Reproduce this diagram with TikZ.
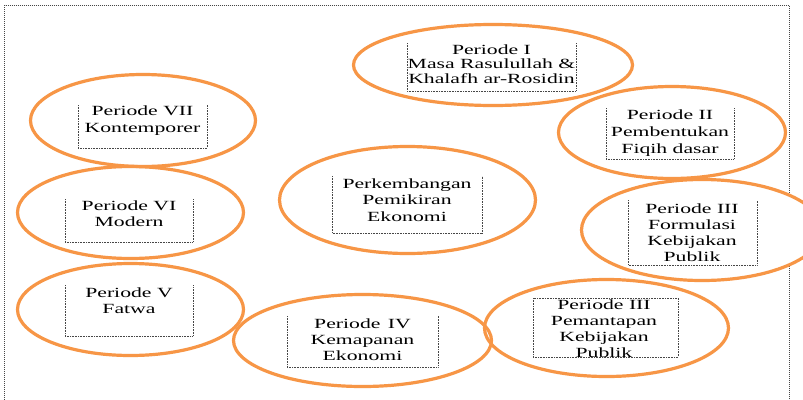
\documentclass[tikz,border=0pt]{standalone}
\usepackage{fontspec}
\setmainfont[FakeStretch=1.55]{Liberation Serif}
\usetikzlibrary{shapes.geometric}
\definecolor{orng}{RGB}{247,150,70}
\definecolor{dotc}{RGB}{70,70,70}
\tikzset{
  oval/.style={ellipse, draw=orng, line width=3.2pt, inner sep=0pt, outer sep=0pt},
  ovalfill/.style={ellipse, fill=white, inner sep=0pt, outer sep=0pt},
  dotbox/.style={draw=dotc, line width=0.7pt, dash pattern=on 0.8pt off 0.8pt},
  frameline/.style={draw=dotc, line width=0.8pt, dash pattern=on 1pt off 1pt},
  lbl/.style={anchor=north, inner sep=0pt, outer sep=0pt, align=center, text=black}
}
\begin{document}
\begin{tikzpicture}[x=1pt,y=-1pt]
\useasboundingbox (0,0) rectangle (803,399);
\clip (0,0) rectangle (803,399);
\fill[white] (0,0) rectangle (803,399);
% frame
\coordinate (fbl) at (4.5,402);
\coordinate (ftl) at (4.5,5);
\coordinate (ftr) at (789,5);
\coordinate (fbr) at (789,402);
\draw[frameline] (fbl) -- (ftl) -- (ftr) -- (fbr);
% white fills of ellipses
\foreach \cx/\cy/\w/\h in {493/65/279/81, 672/132.5/227/92, 702/230/241/101, 606.5/328/244/97, 362.5/340.5/258/92, 130.5/309.5/226/92, 130.5/212.5/226/92, 143/120.5/225/92, 407.5/200/256/107}
  \node[ovalfill, minimum width=\w pt, minimum height=\h pt] at (\cx,\cy) {};
% ellipse outlines
\node[oval, minimum width=279pt, minimum height=81pt] (e1) at (493,65) {};
\node[oval, minimum width=227pt, minimum height=92pt] (e2) at (672,132.5) {};
\node[oval, minimum width=241pt, minimum height=101pt] (e3) at (702,230) {};
\node[oval, minimum width=244pt, minimum height=97pt] (e4) at (606.5,328) {};
\node[oval, minimum width=258pt, minimum height=92pt] (e5) at (362.5,340.5) {};
\node[oval, minimum width=226pt, minimum height=92pt] (e6) at (130.5,309.5) {};
\node[oval, minimum width=226pt, minimum height=92pt] (e7) at (130.5,212.5) {};
\node[oval, minimum width=225pt, minimum height=92pt] (e8) at (143,120.5) {};
\node[oval, minimum width=256pt, minimum height=107pt] (e0) at (407.5,200) {};
% texts
\node[lbl, font={\fontsize{14}{14.5}\selectfont}] (t1) at (491.5,44.4) {Periode I\\Masa Rasulullah \&\\Khalafh ar-Rosidin};
\node[lbl, font={\fontsize{14}{17}\selectfont}] (t2) at (670,109.4) {Periode II\\Pembentukan\\Fiqih dasar};
\node[lbl, font={\fontsize{14}{16}\selectfont}] (t3) at (692,203.4) {Periode III\\Formulasi\\Kebijakan\\Publik};
\node[lbl, font={\fontsize{14}{16.2}\selectfont}] (t4) at (604,299.4) {Periode III\\Pemantapan\\Kebijakan\\Publik};
\node[lbl, font={\fontsize{14}{16}\selectfont}] (t5) at (362.5,318.4) {Periode\hspace{2pt} IV\\Kemapanan\\Ekonomi};
\node[lbl, font={\fontsize{14}{16}\selectfont}] (t6) at (129,287.4) {Periode V\\Fatwa};
\node[lbl, font={\fontsize{14}{16}\selectfont}] (t7) at (129,200.4) {Periode VI\\Modern};
\node[lbl, font={\fontsize{14}{17}\selectfont}] (t8) at (142.5,105.4) {Periode VII\\Kontemporer};
\node[lbl, font={\fontsize{14}{16.5}\selectfont}] (t0) at (407,178.4) {Perkembangan\\Pemikiran\\Ekonomi};
% dotted boxes (sides and bottom)
\foreach \xa/\xb/\ya/\yb in {407/576/43/91, 606/734/108/159, 628/757/200/265, 287/438/316/367, 65/193/285/336, 65/193/199/242, 78/207/105/148, 332/482/176/233}
  \draw[dotbox] (\xa,\ya) -- (\xa,\yb) -- (\xb,\yb) -- (\xb,\ya);
\draw[dotbox] (533,298) rectangle (678,357);
\end{tikzpicture}
\end{document}
